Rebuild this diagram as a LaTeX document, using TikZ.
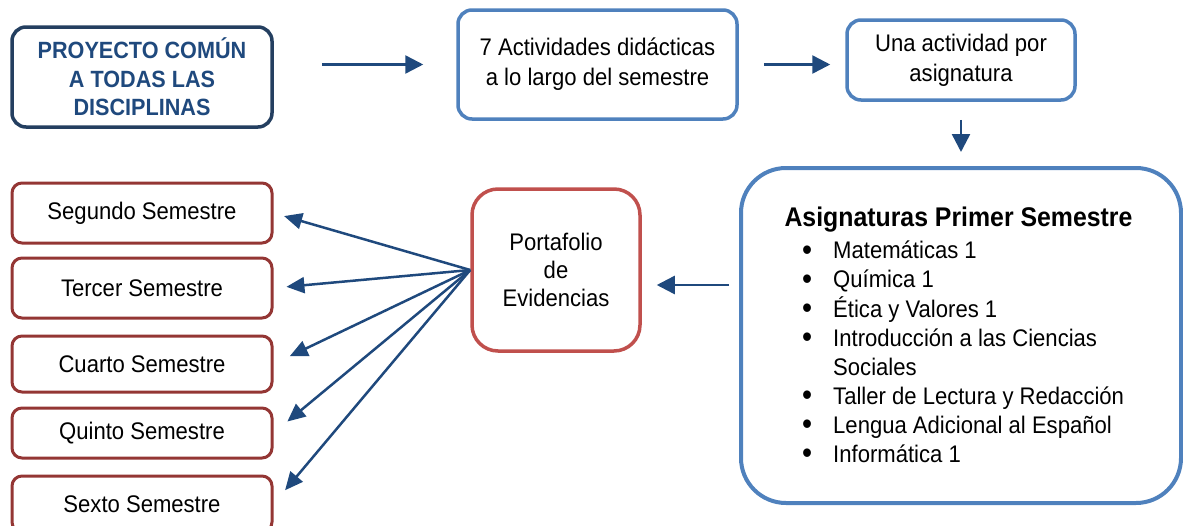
\documentclass[tikz,border=0pt]{standalone}
\usepackage{fontspec}
\setmainfont{Liberation Sans}[FakeStretch=0.92]
\usetikzlibrary{positioning, arrows.meta}
\definecolor{navy}{HTML}{1F497D}
\definecolor{darknavy}{HTML}{243F60}
\definecolor{lightblue}{HTML}{4F81BD}
\definecolor{redbox}{HTML}{C0504D}
\definecolor{darkred}{HTML}{943634}
\newcommand{\punto}{\raisebox{-1.6pt}{\scalebox{1.3}{\textbullet}}}

\tikzset{
  proyecto/.style={draw=darknavy, line width=3.5pt, rounded corners=14pt, minimum width=260pt, minimum height=100pt, align=center, text=navy, font=\bfseries\fontsize{23.5}{28.5}\selectfont},
  caja/.style={draw=lightblue, line width=3.5pt, rounded corners=14pt, align=center, font=\fontsize{24}{30}\selectfont},
  semestre/.style={draw=darkred, line width=3pt, rounded corners=10pt, minimum width=260pt, align=center, font=\fontsize{24}{26}\selectfont},
  flecha/.style={-{Triangle[length=18pt,width=18pt]}, draw=navy, line width=2.5pt},
  flechita/.style={-{Triangle[length=18pt,width=16pt]}, draw=navy, line width=2.5pt}
}

\begin{document}
\begin{tikzpicture}[x=1pt, y=-1pt, on grid]
   \useasboundingbox (0,0) rectangle (1183,525);

   % Top row
   \node[proyecto] (proy) at (142,77) {PROYECTO COMÚN\\A TODAS LAS\\DISCIPLINAS};
   \node[caja, minimum width=279pt, minimum height=109pt] (activ) at (597.5,64.5) {7 Actividades didácticas\\a lo largo del semestre};
   \node[caja, minimum width=228pt, minimum height=80pt] (una) at (961,60) {Una actividad por\\asignatura};

   % Subjects of the first semester
   \node[caja, line width=4pt, rounded corners=45pt, minimum width=440pt, minimum height=335pt] (asig) at (961,335.5) {};
   \node[anchor=west, font=\bfseries\fontsize{27}{30}\selectfont] (titulo) at (781,220) {Asignaturas Primer Semestre};
   \node[anchor=north west, inner sep=0pt, font=\fontsize{24}{29}\selectfont] (lista) at (802,238) {%
     \begin{tabular}{@{}p{31pt}@{}l@{}}
       \punto & Matemáticas 1\\
       \punto & Química 1\\
       \punto & Ética y Valores 1\\
       \punto & Introducción a las Ciencias\\
              & Sociales\\
       \punto & Taller de Lectura y Redacción\\
       \punto & Lengua Adicional al Español\\
       \punto & Informática 1
     \end{tabular}};

   % Portfolio
   \node[draw=redbox, line width=3.5pt, rounded corners=26pt, minimum width=168pt, minimum height=162pt, align=center, font=\fontsize{24}{28}\selectfont] (port) at (556,270) {Portafolio\\de\\Evidencias};
   \coordinate (portin) at ([yshift=-15pt]port.east);

   % Semesters
   \node[semestre, minimum height=60pt] (seg) at (142,213) {Segundo Semestre};
   \node[semestre, minimum height=60pt] (ter) [below=75pt of seg] {Tercer Semestre};
   \node[semestre, minimum height=56pt] (cua) [below=76pt of ter] {Cuarto Semestre};
   \node[semestre, minimum height=50pt] (qui) [below=69pt of cua] {Quinto Semestre};
   \node[semestre, minimum height=56pt] (sex) [below=71pt of qui] {Sexto Semestre};

   % Top row arrows
   \draw[flecha, shorten <=48pt, shorten >=33pt] (proy.east |- activ.west) -- (activ.west);
   \draw[flecha, shorten <=25pt, shorten >=15pt] (activ.east) -- (una.west |- activ.east);
   \draw[flecha, shorten <=18pt, shorten >=14pt] (una.south) -- (asig.north);
   \draw[flecha, shorten <=10pt, shorten >=15pt] (asig.west |- portin) -- (portin);

   % Portfolio to semesters
   \foreach \s/\d in {seg/11, ter/13, cua/18, qui/18, sex/18}
     \draw[flechita, shorten >=\d pt] (port.west) -- (\s.east);
\end{tikzpicture}
\end{document}
